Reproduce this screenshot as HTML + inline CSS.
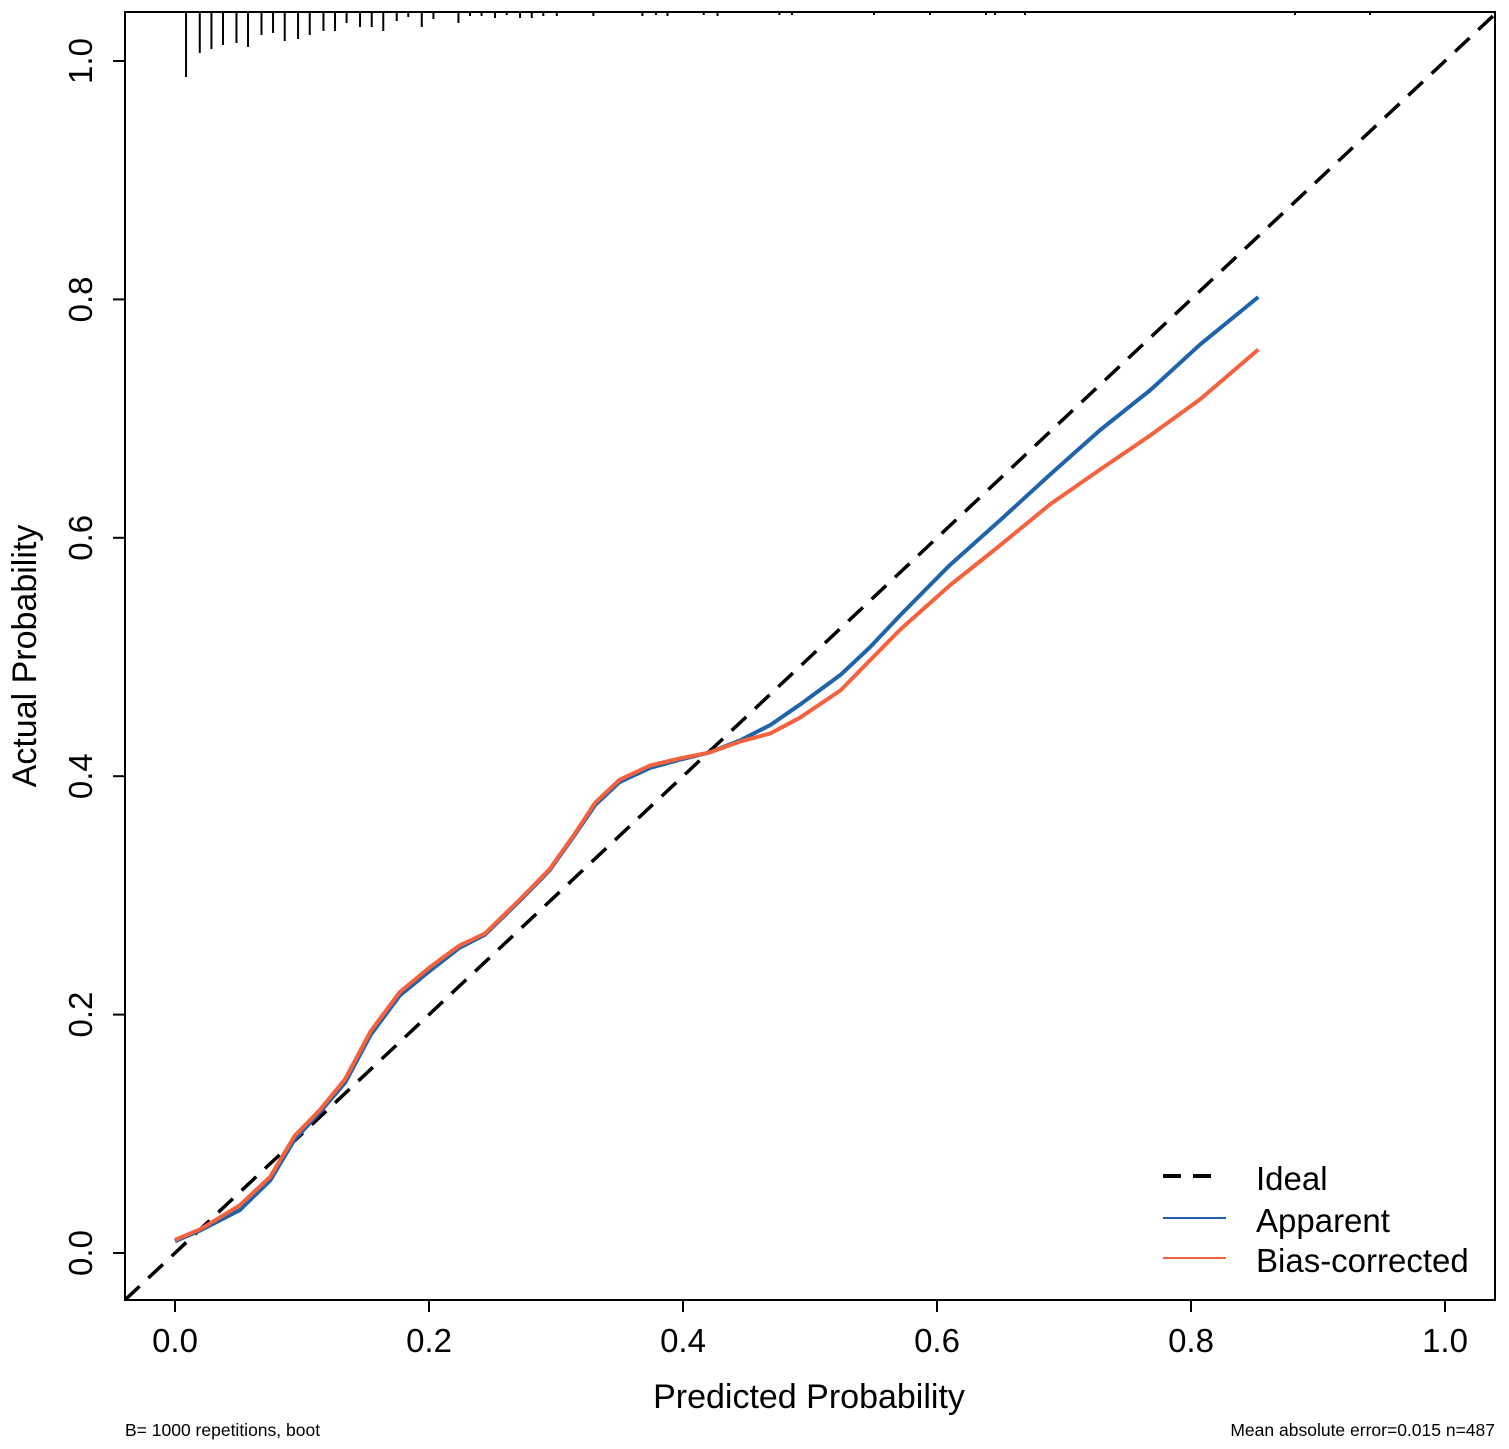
<!DOCTYPE html>
<html><head><meta charset="utf-8"><style>
html,body{margin:0;padding:0;background:#fff;}
svg text{font-family:"Liberation Sans",Arial,sans-serif;fill:#000;}
</style></head><body>
<svg id="chart" width="1509" height="1444" viewBox="0 0 1509 1444" xmlns="http://www.w3.org/2000/svg">
<rect x="0" y="0" width="1509" height="1444" fill="#fff"/>
<g id="rug"></g>
<g id="lines"></g>
<rect x="125" y="12" width="1370" height="1288" fill="none" stroke="#000" stroke-width="2"/>
<g id="axes"></g>
<text x="809" y="1408" font-size="34" text-anchor="middle">Predicted Probability</text>
<text transform="translate(36,656) rotate(-90)" font-size="34" text-anchor="middle">Actual Probability</text>
<text x="125" y="1436" font-size="17.5">B= 1000 repetitions, boot</text>
<text x="1495" y="1436" font-size="17.5" text-anchor="end">Mean absolute error=0.015 n=487</text>
<g>
<line x1="1163" y1="1176" x2="1213" y2="1176" stroke="#000" stroke-width="4" stroke-dasharray="18,12"/>
<text x="1256" y="1190" font-size="33">Ideal</text>
<line x1="1163" y1="1218" x2="1226" y2="1218" stroke="#1f63a8" stroke-width="2"/>
<text x="1256" y="1232" font-size="33">Apparent</text>
<line x1="1163" y1="1258" x2="1226" y2="1258" stroke="#f4623f" stroke-width="2"/>
<text x="1256" y="1272" font-size="33">Bias-corrected</text>
</g>
</svg>
<script>
const xTicks=[0,0.2,0.4,0.6,0.8,1.0];
const yTicks=[0,0.2,0.4,0.6,0.8,1.0];
const tickLabels=["0.0","0.2","0.4","0.6","0.8","1.0"];
const apparentX=[0,0.02,0.051,0.075,0.094,0.114,0.134,0.154,0.177,0.201,0.224,0.244,0.272,0.295,0.315,0.331,0.35,0.374,0.398,0.421,0.445,0.469,0.492,0.524,0.547,0.571,0.61,0.65,0.689,0.728,0.768,0.807,0.853];
const apparentY=[0.010,0.019,0.036,0.061,0.095,0.118,0.143,0.183,0.216,0.237,0.256,0.267,0.296,0.321,0.351,0.376,0.395,0.407,0.414,0.420,0.430,0.443,0.460,0.485,0.508,0.535,0.577,0.615,0.653,0.690,0.724,0.762,0.802];
const biasX=[0,0.02,0.051,0.075,0.094,0.114,0.134,0.154,0.177,0.201,0.224,0.244,0.272,0.295,0.315,0.331,0.35,0.374,0.398,0.421,0.445,0.469,0.492,0.524,0.547,0.571,0.61,0.65,0.689,0.728,0.768,0.807,0.853];
const biasY=[0.011,0.020,0.040,0.064,0.098,0.120,0.146,0.186,0.219,0.240,0.258,0.268,0.297,0.322,0.352,0.378,0.397,0.409,0.415,0.420,0.429,0.436,0.449,0.472,0.497,0.523,0.560,0.594,0.628,0.657,0.686,0.716,0.758];
const rugX=[0.0087,0.0195,0.0287,0.0378,0.0484,0.0575,0.0681,0.0772,0.0864,0.0969,0.1061,0.1169,0.1260,0.1351,0.1457,0.1549,0.1640,0.1746,0.1837,0.1943,0.2035,0.2232,0.2323,0.2414,0.2520,0.2612,0.2717,0.2809,0.2900,0.3006,0.3294,0.3680,0.3787,0.3878,0.4163,0.4272,0.4759,0.4858,0.5504,0.5945,0.6386,0.6457,0.6693,0.8819,0.9409];
const rugH=[64,40,36,32,30,34,22,20,28,26,22,18,18,10,14,14,18,8,4,14,6,10,3,3,5,2,5,5,3,3,3,3,2,3,2,3,2,2,2,2,2,2,2,2,2];
const X=v=>175+v*1270;
const Y=v=>1253-v*1192;
const NS="http://www.w3.org/2000/svg";
const rug=document.getElementById('rug');
const lines=document.getElementById('lines');
const axes=document.getElementById('axes');
function mk(t,a,p){const e=document.createElementNS(NS,t);for(const k in a)e.setAttribute(k,a[k]);p.appendChild(e);return e;}
for(let i=0;i<rugX.length;i++){
 const l=mk('line',{x1:X(rugX[i]),x2:X(rugX[i]),y1:13,y2:13+rugH[i],stroke:'#000','stroke-width':2},rug);
 
 
}
const ideal=mk('line',{x1:125,y1:Y((125-175)/1270),x2:1495,y2:Y((1495-175)/1270),stroke:'#000','stroke-width':3.5,'stroke-dasharray':'20,12'},lines);


function path(xs,ys){return xs.map((v,i)=>(i?'L':'M')+X(v).toFixed(1)+','+Y(ys[i]).toFixed(1)).join(' ');}
const pa=mk('path',{d:path(apparentX,apparentY),fill:'none',stroke:'#1f63a8','stroke-width':4,'stroke-linejoin':'round'},lines);


const pb=mk('path',{d:path(biasX,biasY),fill:'none',stroke:'#f4623f','stroke-width':4,'stroke-linejoin':'round'},lines);


xTicks.forEach((v,i)=>{
 const t=mk('line',{x1:X(v),x2:X(v),y1:1300,y2:1312,stroke:'#000','stroke-width':2},axes);
 
 
 const tx=mk('text',{x:X(v),y:1352,'font-size':33,'text-anchor':'middle'},axes);
 tx.textContent=tickLabels[i];
 
 
});
yTicks.forEach((v,i)=>{
 const t=mk('line',{x1:113,x2:125,y1:Y(v),y2:Y(v),stroke:'#000','stroke-width':2},axes);
 
 
 const tx=mk('text',{transform:'translate(92,'+Y(v)+') rotate(-90)','font-size':33,'text-anchor':'middle'},axes);
 tx.textContent=tickLabels[i];
 
 
});
</script>
</body></html>
